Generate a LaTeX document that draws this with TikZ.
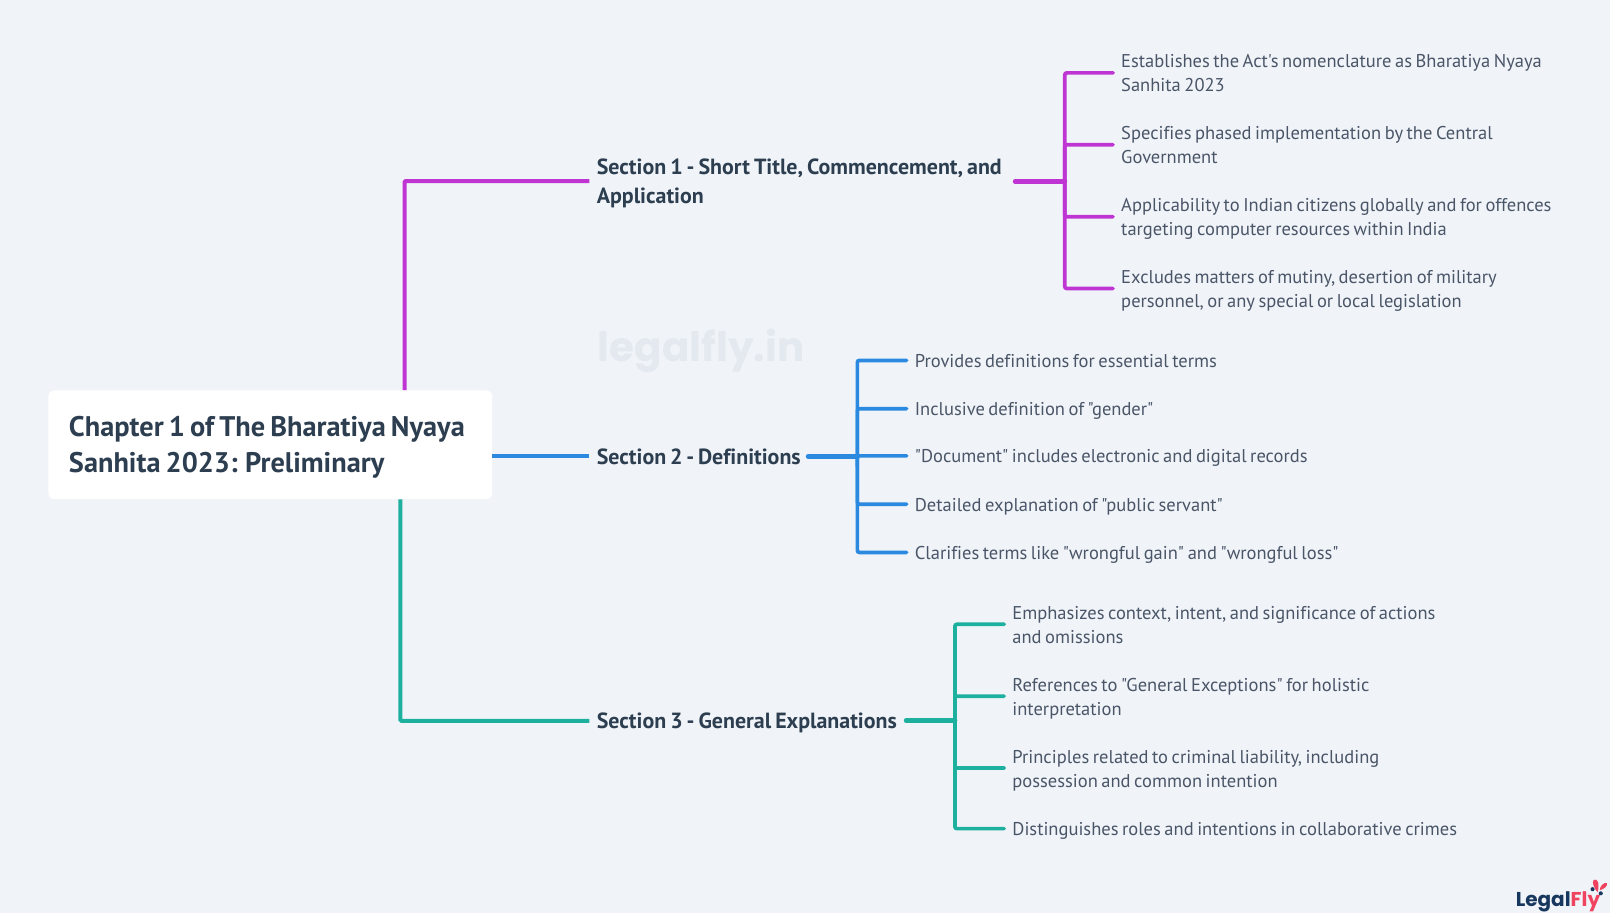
\documentclass[tikz,border=0pt]{standalone}
\usepackage{fontspec}
\setmainfont[WordSpace=0.72,Ligatures={TeXOff,CommonOff}]{PT Sans}
\newfontfamily\logofont{Poppins}
\usetikzlibrary{calc}
\definecolor{bgc}{HTML}{F0F4F8}
\definecolor{purp}{HTML}{BE35D3}
\definecolor{blu}{HTML}{2B8ADF}
\definecolor{tea}{HTML}{1DB09E}
\definecolor{titlec}{HTML}{2C3E50}
\definecolor{leafc}{HTML}{4A5568}
\definecolor{markc}{HTML}{E3E9EF}
\definecolor{navy}{HTML}{17375E}
\definecolor{logored}{HTML}{F0435F}
\newcommand{\lfstrut}{\rule[-5pt]{0pt}{24pt}}
\newcommand{\secstrut}{\rule[-6.7pt]{0pt}{29pt}}
\tikzset{
  x=1.02679pt,y=-1.02679pt,
  rootbox/.style={fill=white,rounded corners=6pt,minimum width=443.6pt,minimum height=108.8pt,inner sep=0pt,anchor=north west},
  secnode/.style={anchor=west,inner xsep=7.2pt,inner ysep=0pt,align=flush left,text=titlec,font=\fontsize{21.95}{29}\selectfont\bfseries},
  leafnode/.style={anchor=west,inner xsep=8pt,inner ysep=0pt,align=flush left,text=leafc,font=\fontsize{18.5}{24}\selectfont},
  link/.style={line width=4pt,line cap=butt,rounded corners=1pt},
  stem/.style={line width=4.8pt,line cap=round},
  twig/.style={line width=3.7pt,line cap=round,rounded corners=2pt},
}
\begin{document}
\begin{tikzpicture}
\useasboundingbox[fill=bgc] (0,0) rectangle (1568,889.17);
\node[font=\logofont\fontsize{40.5}{44}\selectfont\bfseries,text=markc,anchor=base west,inner sep=0pt] (mark) at (582,352) {legalfly.in};
% root
\node[rootbox] (root) at (47,380) {};
\node[anchor=west,inner sep=0pt,align=flush left,text=titlec,font=\fontsize{28.35}{36}\selectfont\bfseries] (roottext) at (67,436) {\strut Chapter 1 of The Bharatiya Nyaya\\\strut Sanhita 2023: Preliminary};
% sections
\node[secnode,text width=411pt] (s1) at (574,176.5) {\secstrut Section 1 - Short Title, Commencement, and\\\secstrut Application};
\node[secnode,text width=204pt] (s2) at (574,444.5) {\secstrut Section 2 - Definitions};
\node[secnode,text width=302pt] (s3) at (574,702) {\secstrut Section 3 - General Explanations};
% trunks
\coordinate (t1) at (1037,0 |- s1.east);
\coordinate (t2) at (835,0 |- s2.east);
\coordinate (t3) at (930,0 |- s3.east);
% leaves
\node[leafnode,text width=440pt] (a1) at (1084,71) {\lfstrut Establishes the Act's nomenclature as Bharatiya Nyaya\\\lfstrut Sanhita 2023};
\node[leafnode,text width=440pt] (a2) at (1084,141) {\lfstrut Specifies phased implementation by the Central\\\lfstrut Government};
\node[leafnode,text width=440pt] (a3) at (1084,211) {\lfstrut Applicability to Indian citizens globally and for offences\\\lfstrut targeting computer resources within India};
\node[leafnode,text width=440pt] (a4) at (1084,281) {\lfstrut Excludes matters of mutiny, desertion of military\\\lfstrut personnel, or any special or local legislation};
\node[leafnode,text width=440pt] (b1) at (883,351) {\lfstrut Provides definitions for essential terms};
\node[leafnode,text width=440pt] (b2) at (883,398) {\lfstrut Inclusive definition of "gender"};
\node[leafnode,text width=440pt] (b3) at (883,444) {\lfstrut "Document" includes electronic and digital records};
\node[leafnode,text width=440pt] (b4) at (883,491) {\lfstrut Detailed explanation of "public servant"};
\node[leafnode,text width=440pt] (b5) at (883,538) {\lfstrut Clarifies terms like "wrongful gain" and "wrongful loss"};
\node[leafnode,text width=460pt] (c1) at (978,608) {\lfstrut Emphasizes context, intent, and significance of actions\\\lfstrut and omissions};
\node[leafnode,text width=460pt] (c2) at (978,678) {\lfstrut References to "General Exceptions" for holistic\\\lfstrut interpretation};
\node[leafnode,text width=460pt] (c3) at (978,748) {\lfstrut Principles related to criminal liability, including\\\lfstrut possession and common intention};
\node[leafnode,text width=460pt] (c4) at (978,807) {\lfstrut Distinguishes roles and intentions in collaborative crimes};
% root links
\draw[link,purp] ($(root.north west)+(347,0)$) |- (s1.west);
\draw[link,blu,rounded corners=0pt] (root.east |- s2.west) -- (s2.west);
\draw[link,tea] ($(root.south west)+(343,0)$) |- (s3.west);
% section stems
\draw[stem,purp] (s1.east) -- (t1);
\draw[stem,blu] (s2.east) -- (t2);
\draw[stem,tea] (s3.east) -- (t3);
% twigs
\foreach \n in {a1,a2,a3,a4} \draw[twig,purp] (\n.west) -| (t1);
\foreach \n in {b1,b2,b3,b4,b5} \draw[twig,blu] (\n.west) -| (t2);
\foreach \n in {c1,c2,c3,c4} \draw[twig,tea] (\n.west) -| (t3);
% logo
\node[font=\logofont\fontsize{20}{20}\selectfont\bfseries,anchor=base west,inner sep=0pt] (logo) at (1476,883) {\textcolor{navy}{Legal}\textcolor{logored}{Fly}};
\fill[logored] (1552,857) .. controls (1556,855) and (1558,860) .. (1556,869) .. controls (1553,866) and (1550,860) .. (1552,857) -- cycle;
\fill[logored] (1558,867) .. controls (1558,863) and (1562,859) .. (1565,860) .. controls (1566,863) and (1562,866) .. (1558,867) -- cycle;
\fill[navy] (1551,866) circle (2);
\fill[navy] (1559,870) circle (2);
\end{tikzpicture}
\end{document}
